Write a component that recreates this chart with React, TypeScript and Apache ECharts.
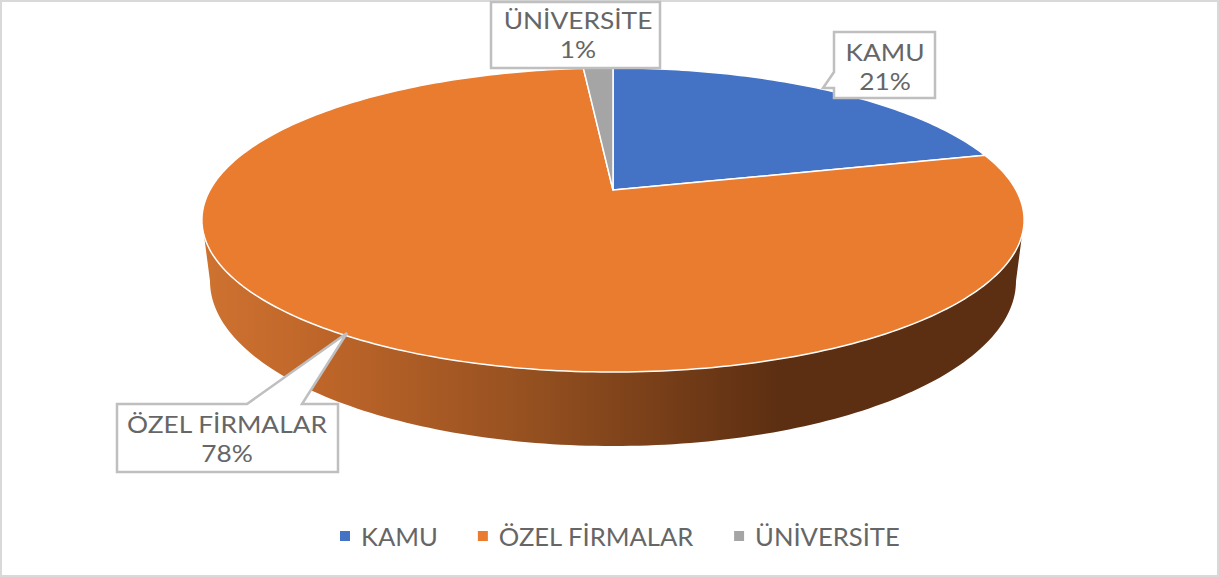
import React, { useEffect, useRef } from "react";
import * as echarts from "echarts";

const categories = ["KAMU", "ÖZEL FİRMALAR", "ÜNİVERSİTE"];
const values = [21, 77.6, 1.4];
const colors = ["#4472C4", "#EA7C30", "#A5A5A5"];
const wallStops = [
  [0, "#CE7230"],
  [0.15, "#BD6529"],
  [0.4, "#955020"],
  [0.7, "#5D2F12"],
  [1, "#5D2F12"],
];

const FONT = "Lato";
const TEXT = "#666666";
const total = values.reduce((a, b) => a + b, 0);
const rad = (d: number) => (d * Math.PI) / 180;

// perspective projection of the pie's unit circle
const CX = 613, APEX = 190, A = 108.6, C = -0.1974, D = 403;
const project = (deg: number) => {
  const u = Math.sin(rad(deg));
  const v = -Math.cos(rad(deg));
  const w = C * v + 1;
  return [CX + (D * u) / w, (A * v + APEX) / w];
};
// the lower rim of the pie's visible wall
const WALL_FROM = 107, WALL_TO = 253;
const lower = (deg: number) => {
  const t = ((deg - WALL_FROM) / (WALL_TO - WALL_FROM)) * Math.PI;
  return [CX + 403 * Math.cos(t), 281 + 165 * Math.sin(t)];
};

const starts = values.map((_, i) => (values.slice(0, i).reduce((a, b) => a + b, 0) / total) * 360);
const ends = values.map((v, i) => starts[i] + (v / total) * 360);

const range = (a: number, b: number) => {
  const out: number[] = [];
  const n = Math.max(1, Math.ceil(b - a));
  for (let i = 0; i <= n; i++) out.push(a + ((b - a) * i) / n);
  return out;
};

const renderSlice = (i: number) => () => {
  const children: any[] = [];
  const a = Math.max(starts[i], WALL_FROM);
  const b = Math.min(ends[i], WALL_TO);
  if (b > a) {
    const angles = range(a, b);
    children.push({
      type: "polygon",
      shape: { points: [...angles.map(project), ...angles.slice().reverse().map(lower)] },
      style: {
        fill: new echarts.graphic.LinearGradient(
          0, 0, 1, 0,
          wallStops.map(([offset, color]) => ({ offset: offset as number, color: color as string }))
        ),
        stroke: "none",
      },
    });
  }
  children.push({
    type: "polygon",
    shape: { points: [[CX, APEX], ...range(starts[i], ends[i]).map(project)] },
    style: { fill: colors[i], stroke: "#FFFFFF", lineWidth: 1.5, lineJoin: "round" },
  });
  return { type: "group", children };
};

const callouts = [
  { i: 0, points: [[834, 32], [935, 32], [935, 98], [834, 98], [834, 88], [823, 88], [834, 72]], cx: 885, y: 52 },
  { i: 1, points: [[117, 404], [247, 404], [347, 333], [302, 404], [338, 404], [338, 472], [117, 472]], cx: 227, y: 424 },
  { i: 2, points: [[491, 2], [660, 2], [660, 68], [491, 68]], cx: 578, y: 20 },
];

export default function App() {
  const ref = useRef<HTMLDivElement>(null);
  useEffect(() => {
    const chart = echarts.init(ref.current!, null, { renderer: "svg" });
    const graphics: any[] = [
      {
        type: "rect",
        z: 1,
        shape: { x: 1, y: 1, width: 1217, height: 575 },
        style: { fill: "none", stroke: "#D9D9D9", lineWidth: 2 },
      },
    ];
    callouts.forEach((c) => {
      graphics.push({
        type: "polygon",
        z: 100,
        shape: { points: c.points },
        style: { fill: "#FFFFFF", stroke: "#BFBFBF", lineWidth: 2.5 },
      });
      [categories[c.i], `${Math.round(values[c.i])}%`].forEach((t, k) => {
        graphics.push({
          type: "text",
          z: 101,
          x: c.cx,
          y: c.y + k * 29,
          scaleX: 1.17,
          style: { text: t, font: `22.5px ${FONT}`, fill: TEXT, textAlign: "center", textVerticalAlign: "middle" },
        });
      });
    });
    chart.setOption({
      animation: false,
      backgroundColor: "#FFFFFF",
      legend: {
        data: categories,
        left: 340,
        top: 523,
        padding: 0,
        icon: "rect",
        itemWidth: 10,
        itemHeight: 10,
        itemGap: 40,
        textStyle: { fontFamily: FONT, fontSize: 25.6, color: TEXT, padding: [0, 0, 0, 6] },
      },
      graphic: graphics,
      series: categories.map((name, i) => ({
        type: "custom",
        name,
        coordinateSystem: "none",
        z: 2,
        silent: true,
        itemStyle: { color: colors[i] },
        data: [values[i]],
        renderItem: renderSlice(i),
      })),
    });
    return () => chart.dispose();
  }, []);
  return <div ref={ref} style={{ position: "fixed", left: 0, top: 0, width: 1219, height: 577 }} />;
}
